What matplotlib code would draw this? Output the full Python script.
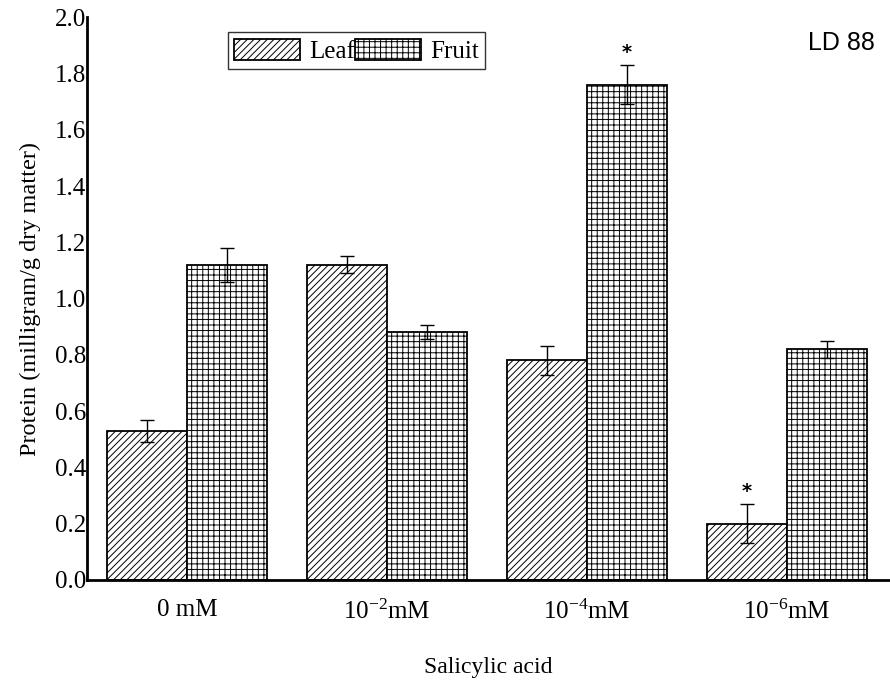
import matplotlib
matplotlib.use('Agg')
import matplotlib.pyplot as plt
import numpy as np

plt.rcParams['font.family'] = ['Liberation Serif', 'DejaVu Serif']
plt.rcParams['mathtext.fontset'] = 'custom'
plt.rcParams['mathtext.rm'] = 'Liberation Serif'
plt.rcParams['mathtext.it'] = 'Liberation Serif:italic'
plt.rcParams['hatch.linewidth'] = 0.7

# ── data ──
groups = ["0 mM", "10$^{-2}$mM", "10$^{-4}$mM", "10$^{-6}$mM"]
leaf = [0.53, 1.12, 0.78, 0.20]
leaf_err = [0.04, 0.03, 0.05, 0.07]
fruit = [1.12, 0.88, 1.76, 0.82]
fruit_err = [0.06, 0.025, 0.07, 0.03]
leaf_sig = [False, False, False, True]
fruit_sig = [False, False, True, False]

fig = plt.figure(figsize=(8.9, 6.88), dpi=100)
ax = fig.add_axes([0.098, 0.157, 0.902, 0.818])

x = np.arange(len(groups))
w = 0.4
ekw = dict(ecolor='black', elinewidth=1, capsize=5, capthick=1)
ax.bar(x - w/2, leaf, w, yerr=leaf_err, color='white', edgecolor='black',
       hatch='/////', lw=1.3, label='Leaf', error_kw=ekw)
ax.bar(x + w/2, fruit, w, yerr=fruit_err, color='white', edgecolor='black',
       hatch='+++', lw=1.3, label='Fruit', error_kw=ekw)

for xs, vals, errs, sig in [(x - w/2, leaf, leaf_err, leaf_sig),
                            (x + w/2, fruit, fruit_err, fruit_sig)]:
    for xi, v, e, s in zip(xs, vals, errs, sig):
        if s:
            ax.text(xi, v + e + 0.045, '*', ha='center', va='center',
                    fontsize=14, fontweight='bold', family='DejaVu Sans')

ax.set_xlim(-0.5, 3.515)
ax.set_ylim(0, 2.0)
ticks = np.arange(0, 2.01, 0.2)
ax.set_yticks(ticks)
ax.set_yticklabels([f"{t:.1f}" for t in ticks])
ax.set_xticks(x)
ax.set_xticklabels(groups)
ax.tick_params(axis='both', length=0, labelsize=18)
ax.tick_params(axis='x', pad=14)
ax.tick_params(axis='y', pad=1)
for s in ['top', 'right']:
    ax.spines[s].set_visible(False)
for s in ['left', 'bottom']:
    ax.spines[s].set_linewidth(2)

ax.set_ylabel("Protein (milligram/g dry matter)", fontsize=17.5, labelpad=10)
ax.set_xlabel("Salicylic acid", fontsize=17, labelpad=24)

leg = ax.legend(loc='upper left', bbox_to_anchor=(0.1756, 0.973), ncol=2, fontsize=18,
                frameon=True, fancybox=False, edgecolor='black', handlelength=2.64,
                handleheight=0.95, columnspacing=0.0, handletextpad=0.36,
                borderpad=0.25, borderaxespad=0)
leg.get_frame().set_linewidth(1)

fig.text(0.908, 0.9375, "LD 88", fontsize=18, family='Liberation Sans', ha='left', va='center')

fig.savefig("out.png", dpi=100)
